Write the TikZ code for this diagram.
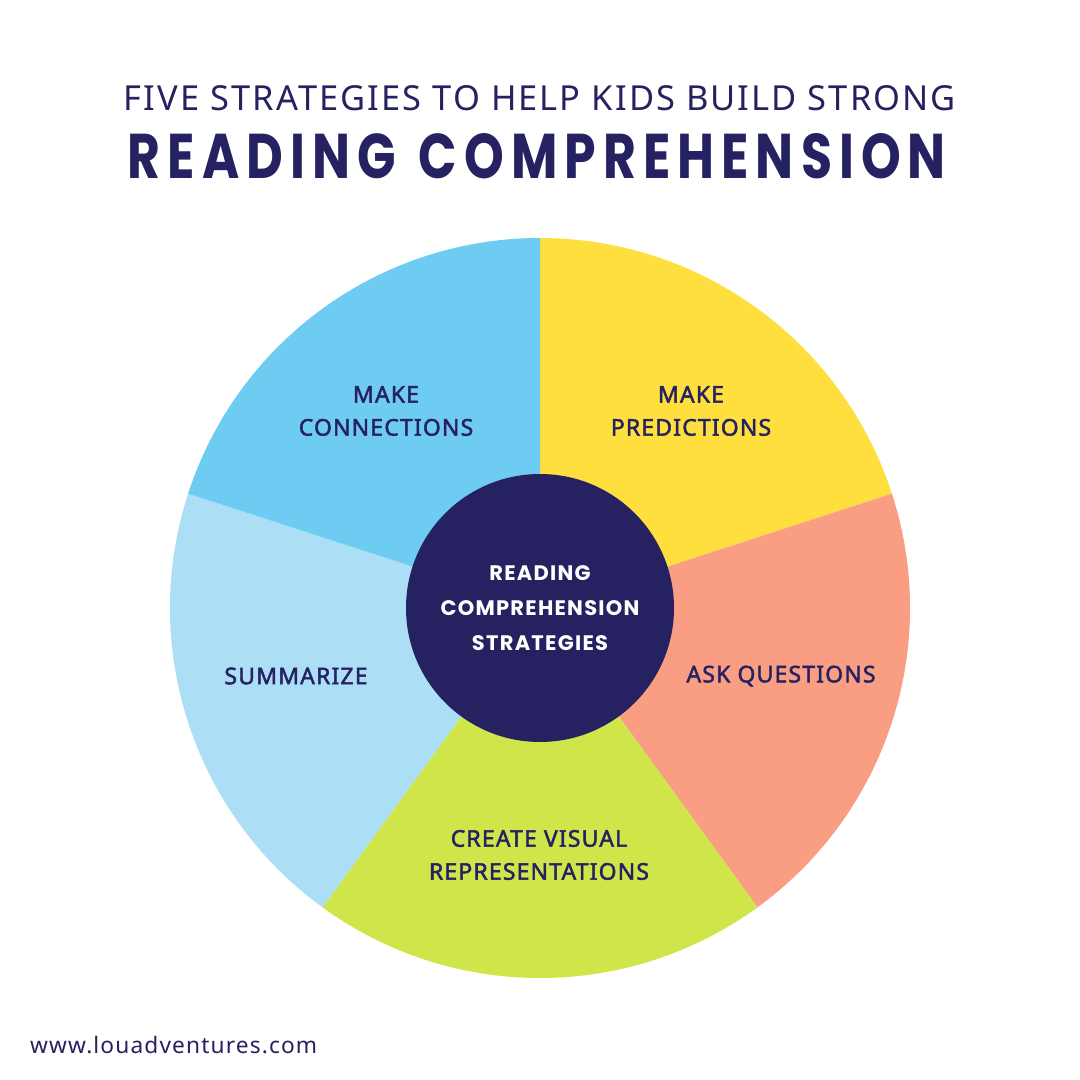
\documentclass[tikz,border=0pt]{standalone}
\usepackage{fontspec}
\usepackage{graphicx}
\setmainfont{Noto Sans}
\newfontfamily\headfont{Poppins}[LetterSpace=14]
\newfontfamily\thinfont{Noto Sans}[LetterSpace=6]
\newfontfamily\webfont{Noto Sans}[LetterSpace=5]
\newfontfamily\labelfont{Noto Sans}[LetterSpace=5,FakeBold=2]
\newfontfamily\hubfont{Poppins}[LetterSpace=6]
\usetikzlibrary{positioning}

\definecolor{navy}{HTML}{262262}
\definecolor{yellowseg}{HTML}{FEDF3E}
\definecolor{salmonseg}{HTML}{F99E82}
\definecolor{greenseg}{HTML}{CFE54A}
\definecolor{paleseg}{HTML}{ACDFF6}
\definecolor{blueseg}{HTML}{6ECBF2}

\begin{document}
\begin{tikzpicture}[x=1pt, y=1pt,
	strategy/.style={font=\labelfont\fontsize{23}{33}\selectfont, text=navy, align=center},
	hub/.style={circle, fill=navy, minimum size=268pt, inner sep=0pt, text=white, align=center,
		font=\hubfont\bfseries\fontsize{21}{35}\selectfont}]
	\useasboundingbox (0,0) rectangle (1080,1080);
	\fill[white] (0,0) rectangle (1080,1080);
	
	% title
	\node[text=navy] (subtitle) at (540,982) {\resizebox{832pt}{!}{\thinfont\fontsize{32}{32}\selectfont FIVE STRATEGIES TO HELP KIDS BUILD STRONG}};
	\node[text=navy] (title) at (537,924) {\resizebox{818pt}{45pt}{\headfont\bfseries\fontsize{64}{64}\selectfont READING\hspace{0.45em}COMPREHENSION}};
	
	% wheel
	\coordinate (c) at (540,472);
	\foreach \a/\col in {18/yellowseg, -54/salmonseg, -126/greenseg, -198/paleseg, -270/blueseg}
		\fill[\col] (c) -- ++({\a+72}:370) arc[start angle=\a+72, end angle=\a, radius=370] -- cycle;
	\node[hub] (center) at (c) {READING\\COMPREHENSION\\STRATEGIES};
	
	% strategies
	\node[strategy] (predict) at (691,669) {MAKE\\PREDICTIONS};
	\node[strategy] (ask) at (781,404) {ASK QUESTIONS};
	\node[strategy] (visual) at (539,225) {CREATE VISUAL\\REPRESENTATIONS};
	\node[strategy] (summ) at (296,404) {SUMMARIZE};
	\node[strategy] (connect) at (386,669) {MAKE\\CONNECTIONS};
	
	% footer
	\node[text=navy, anchor=west, inner sep=0pt] (web) at (30,35) {\resizebox{287pt}{!}{\webfont\fontsize{22}{22}\selectfont www.louadventures.com}};
\end{tikzpicture}
\end{document}
